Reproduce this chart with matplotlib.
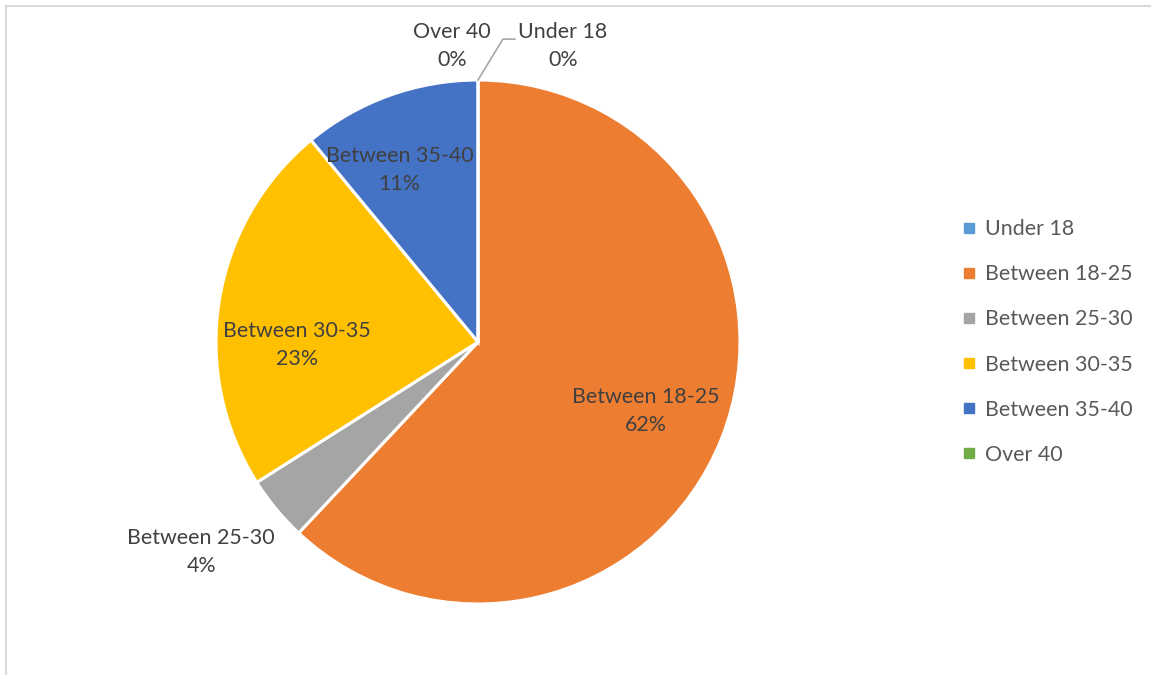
import matplotlib
matplotlib.use("Agg")
import matplotlib.pyplot as plt
from matplotlib.lines import Line2D

# --- Data ---
categories = ["Under 18", "Between 18-25", "Between 25-30",
              "Between 30-35", "Between 35-40", "Over 40"]
percents = [0, 62, 4, 23, 11, 0]
colors = ["#5B9BD5", "#ED7D31", "#A5A5A5", "#FFC000", "#4472C4", "#70AD47"]

# label block centres, in pie-radius units (layout only)
label_pos = [(0.324, 1.13), (0.641, -0.263), (-1.057, -0.80),
             (-0.69, -0.011), (-0.30, 0.656), (-0.10, 1.13)]

plt.rcParams["font.family"] = ["Lato", "DejaVu Sans"]
W, H = 1151, 675
fig = plt.figure(figsize=(W / 100, H / 100), dpi=100)

# pie axes: centre (478, 342) px, radius 262 px
cx, cy, r = 478, 342, 262
ax = fig.add_axes([(cx - r) / W, (H - cy - r) / H, 2 * r / W, 2 * r / H])
wedges, _ = ax.pie([max(p, 1e-9) for p in percents], colors=colors,
                   startangle=90, counterclock=False, radius=1,
                   wedgeprops=dict(edgecolor="white", linewidth=2.2))
ax.set_xlim(-1, 1)
ax.set_ylim(-1, 1)
ax.set_aspect("equal")
ax.axis("off")

for cat, pct, (lx, ly) in zip(categories, percents, label_pos):
    ax.text(lx, ly, f"{cat}\n{pct}%", ha="center", va="center",
            fontsize=15.4, color="#404040", linespacing=1.5)

# leader line for the "Under 18" label
ax.plot([0.0, 0.095, 0.141], [1.0, 1.156, 1.156], color="#A6A6A6",
        linewidth=1.2, clip_on=False)

# legend
handles = [Line2D([], [], marker="s", linestyle="none", markersize=6.5,
                  markerfacecolor=c, markeredgecolor=c) for c in colors]
fig.legend(handles, categories, loc="center left",
           bbox_to_anchor=(952 / W, 1 - 342 / H), frameon=False,
           fontsize=15.4, labelcolor="#595959", labelspacing=1.17,
           handlelength=0.6, handletextpad=0.45, borderpad=0)

# chart-area border (only top and left visible)
fig.add_artist(Line2D([5.5 / W, 5.5 / W], [0, 1 - 6 / H],
                      transform=fig.transFigure, color="#D9D9D9", linewidth=1.5))
fig.add_artist(Line2D([5.5 / W, 1], [1 - 6 / H, 1 - 6 / H],
                      transform=fig.transFigure, color="#D9D9D9", linewidth=1.5))

fig.savefig("out.png", dpi=100, facecolor="white")
